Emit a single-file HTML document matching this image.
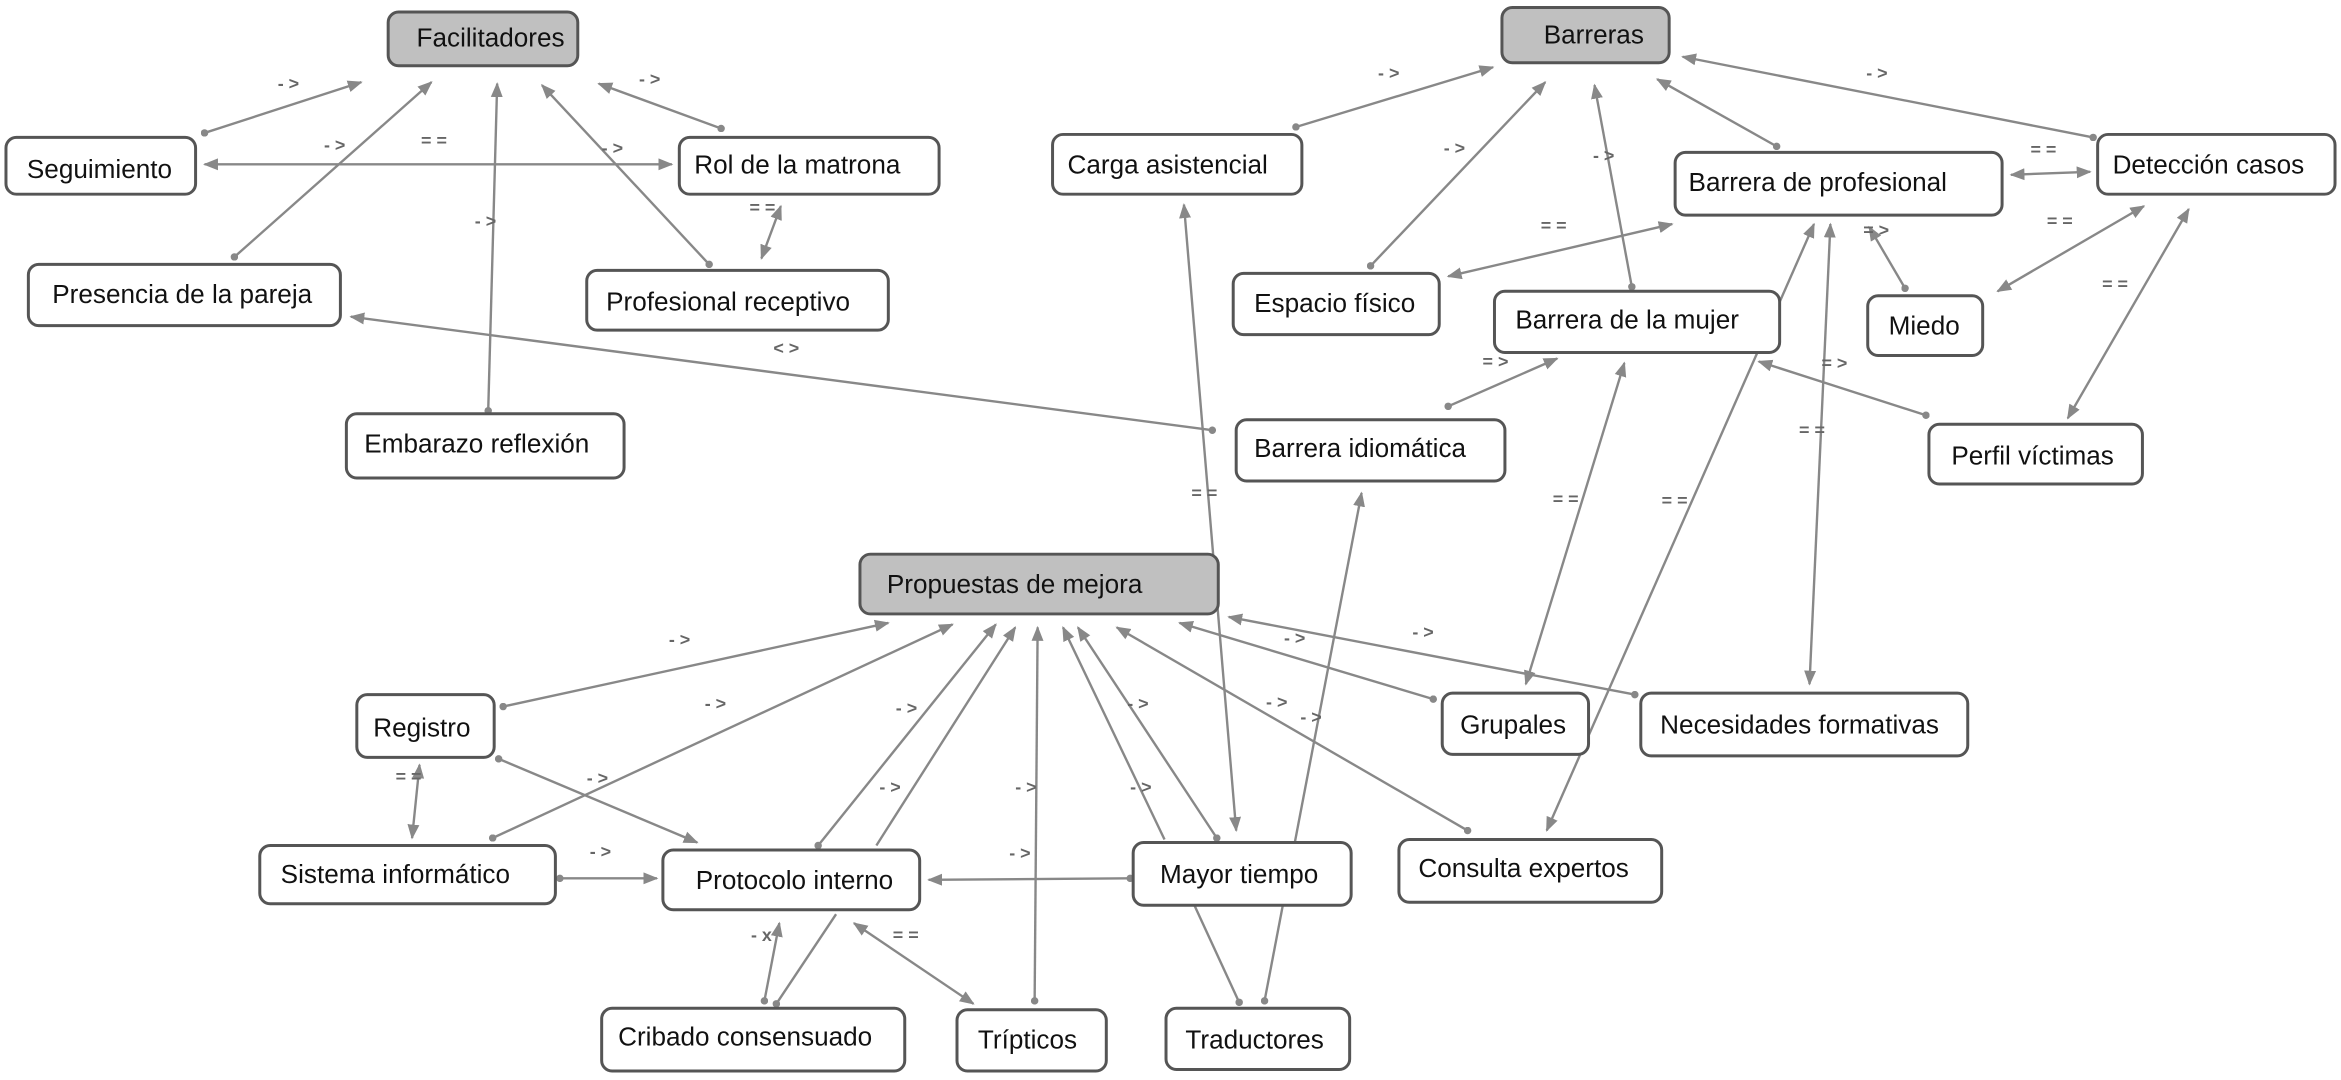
<!DOCTYPE html>
<html><head><meta charset="utf-8"><style>
html,body{margin:0;padding:0;background:#fff;}
svg{display:block}
.n{fill:#fff;stroke:#555;stroke-width:2}
.g{fill:#c0c0c0;stroke:#555;stroke-width:2}
.t{font-family:"Liberation Sans",sans-serif;font-size:17.5px;fill:#111}
.e{stroke:#888;stroke-width:1.6;fill:none}
.l{font-family:"Liberation Sans",sans-serif;font-size:12px;fill:#666;font-weight:bold}
</style></head><body>
<svg width="2341" height="1080" viewBox="0 0 1568 723" preserveAspectRatio="none" xmlns="http://www.w3.org/2000/svg">
<defs>
<marker id="a" viewBox="0 0 10 10" refX="9" refY="5" markerWidth="10" markerHeight="10" markerUnits="userSpaceOnUse" orient="auto-start-reverse"><path d="M0,1 L10,5 L0,9 z" fill="#888"/></marker>
<marker id="d" viewBox="0 0 6 6" refX="3" refY="3" markerWidth="5" markerHeight="5" markerUnits="userSpaceOnUse"><circle cx="3" cy="3" r="3" fill="#888"/></marker>
</defs>
<g>
<line class="e" x1="137" y1="89" x2="242" y2="55" marker-start="url(#d)" marker-end="url(#a)"/>
<line class="e" x1="137" y1="110" x2="450" y2="110" marker-start="url(#a)" marker-end="url(#a)"/>
<line class="e" x1="157" y1="172" x2="289" y2="55" marker-start="url(#d)" marker-end="url(#a)"/>
<line class="e" x1="327" y1="275" x2="333" y2="56" marker-start="url(#d)" marker-end="url(#a)"/>
<line class="e" x1="475" y1="177" x2="363" y2="57" marker-start="url(#d)" marker-end="url(#a)"/>
<line class="e" x1="483" y1="86" x2="401" y2="56" marker-start="url(#d)" marker-end="url(#a)"/>
<line class="e" x1="510" y1="173" x2="523" y2="138" marker-start="url(#a)" marker-end="url(#a)"/>
<line class="e" x1="812" y1="288" x2="235" y2="212" marker-start="url(#d)" marker-end="url(#a)"/>
<line class="e" x1="868" y1="85" x2="1000" y2="45" marker-start="url(#d)" marker-end="url(#a)"/>
<line class="e" x1="918" y1="178" x2="1035" y2="55" marker-start="url(#d)" marker-end="url(#a)"/>
<line class="e" x1="1093" y1="192" x2="1068" y2="57" marker-start="url(#d)" marker-end="url(#a)"/>
<line class="e" x1="1190" y1="98" x2="1110" y2="53" marker-start="url(#d)" marker-end="url(#a)"/>
<line class="e" x1="1402" y1="92" x2="1127" y2="38" marker-start="url(#d)" marker-end="url(#a)"/>
<line class="e" x1="1347" y1="117" x2="1400" y2="115" marker-start="url(#a)" marker-end="url(#a)"/>
<line class="e" x1="970" y1="185" x2="1120" y2="150" marker-start="url(#a)" marker-end="url(#a)"/>
<line class="e" x1="1276" y1="193" x2="1252" y2="152" marker-start="url(#d)" marker-end="url(#a)"/>
<line class="e" x1="1338" y1="195" x2="1436" y2="138" marker-start="url(#a)" marker-end="url(#a)"/>
<line class="e" x1="1385" y1="280" x2="1466" y2="140" marker-start="url(#a)" marker-end="url(#a)"/>
<line class="e" x1="1290" y1="278" x2="1178" y2="242" marker-start="url(#d)" marker-end="url(#a)"/>
<line class="e" x1="970" y1="272" x2="1043" y2="240" marker-start="url(#d)" marker-end="url(#a)"/>
<line class="e" x1="1022" y1="458" x2="1088" y2="243" marker-start="url(#a)" marker-end="url(#a)"/>
<line class="e" x1="1212" y1="458" x2="1226" y2="150" marker-start="url(#a)" marker-end="url(#a)"/>
<line class="e" x1="1036" y1="556" x2="1215" y2="150" marker-start="url(#a)" marker-end="url(#a)"/>
<line class="e" x1="793" y1="137" x2="828" y2="556" marker-start="url(#a)" marker-end="url(#a)"/>
<line class="e" x1="847" y1="670" x2="912" y2="330" marker-start="url(#d)" marker-end="url(#a)"/>
<line class="e" x1="337" y1="473" x2="595" y2="417" marker-start="url(#d)" marker-end="url(#a)"/>
<line class="e" x1="330" y1="561" x2="638" y2="418" marker-start="url(#d)" marker-end="url(#a)"/>
<line class="e" x1="548" y1="566" x2="667" y2="418" marker-start="url(#d)" marker-end="url(#a)"/>
<line class="e" x1="587" y1="566" x2="680" y2="420" marker-end="url(#a)"/>
<line class="e" x1="693" y1="670" x2="695" y2="420" marker-start="url(#d)" marker-end="url(#a)"/>
<line class="e" x1="780" y1="562" x2="712" y2="420" marker-end="url(#a)"/>
<line class="e" x1="815" y1="561" x2="722" y2="420" marker-start="url(#d)" marker-end="url(#a)"/>
<line class="e" x1="983" y1="556" x2="748" y2="420" marker-start="url(#d)" marker-end="url(#a)"/>
<line class="e" x1="960" y1="468" x2="790" y2="417" marker-start="url(#d)" marker-end="url(#a)"/>
<line class="e" x1="1095" y1="465" x2="823" y2="413" marker-start="url(#d)" marker-end="url(#a)"/>
<line class="e" x1="334" y1="508" x2="467" y2="564" marker-start="url(#d)" marker-end="url(#a)"/>
<line class="e" x1="281" y1="512" x2="276" y2="561" marker-start="url(#a)" marker-end="url(#a)"/>
<line class="e" x1="375" y1="588" x2="440" y2="588" marker-start="url(#d)" marker-end="url(#a)"/>
<line class="e" x1="757" y1="588" x2="622" y2="589" marker-start="url(#d)" marker-end="url(#a)"/>
<line class="e" x1="572" y1="618" x2="652" y2="672" marker-start="url(#a)" marker-end="url(#a)"/>
<line class="e" x1="512" y1="670" x2="522" y2="618" marker-start="url(#d)" marker-end="url(#a)"/>
<line class="e" x1="560" y1="612" x2="520" y2="672" marker-end="url(#d)"/>
<line class="e" x1="800" y1="606" x2="830" y2="671" marker-end="url(#d)"/>
</g>
<g class="l">
<text x="186" y="60">- &gt;</text><text x="217" y="101">- &gt;</text><text x="282" y="98">= =</text>
<text x="403" y="103">- &gt;</text><text x="428" y="57">- &gt;</text><text x="318" y="152">- &gt;</text>
<text x="502" y="143">= =</text><text x="518" y="237">&lt; &gt;</text>
<text x="923" y="53">- &gt;</text><text x="967" y="103">- &gt;</text><text x="1067" y="108">- &gt;</text>
<text x="1250" y="53">- &gt;</text><text x="1032" y="155">= =</text><text x="1360" y="104">= =</text>
<text x="1371" y="152">= =</text><text x="1248" y="158">= &gt;</text><text x="993" y="246">= &gt;</text>
<text x="1220" y="247">= &gt;</text><text x="1205" y="292">= =</text><text x="1408" y="194">= =</text>
<text x="1040" y="338">= =</text><text x="1113" y="339">= =</text><text x="798" y="334">= =</text>
<text x="448" y="432">- &gt;</text><text x="472" y="475">- &gt;</text><text x="600" y="478">- &gt;</text>
<text x="589" y="531">- &gt;</text><text x="680" y="531">- &gt;</text><text x="676" y="575">- &gt;</text>
<text x="755" y="475">- &gt;</text><text x="757" y="531">- &gt;</text><text x="860" y="431">- &gt;</text>
<text x="946" y="427">- &gt;</text><text x="848" y="474">- &gt;</text><text x="871" y="484">- &gt;</text>
<text x="393" y="525">- &gt;</text><text x="395" y="574">- &gt;</text><text x="265" y="524">= =</text>
<text x="503" y="630">- x</text><text x="598" y="630">= =</text>
</g>
<g>
<rect class="g" x="260" y="8" width="127" height="36" rx="7"/><text class="t" x="279" y="31">Facilitadores</text>
<rect class="n" x="4" y="92" width="127" height="38" rx="7"/><text class="t" x="18" y="119">Seguimiento</text>
<rect class="n" x="455" y="92" width="174" height="38" rx="7"/><text class="t" x="465" y="116">Rol de la matrona</text>
<rect class="n" x="19" y="177" width="209" height="41" rx="7"/><text class="t" x="35" y="203">Presencia de la pareja</text>
<rect class="n" x="393" y="181" width="202" height="40" rx="7"/><text class="t" x="406" y="208">Profesional receptivo</text>
<rect class="n" x="232" y="277" width="186" height="43" rx="7"/><text class="t" x="244" y="303">Embarazo reflexión</text>
<rect class="g" x="1006" y="5" width="112" height="37" rx="7"/><text class="t" x="1034" y="29">Barreras</text>
<rect class="n" x="705" y="90" width="167" height="40" rx="7"/><text class="t" x="715" y="116">Carga asistencial</text>
<rect class="n" x="1122" y="102" width="219" height="42" rx="7"/><text class="t" x="1131" y="128">Barrera de profesional</text>
<rect class="n" x="1405" y="90" width="159" height="40" rx="7"/><text class="t" x="1415" y="116">Detección casos</text>
<rect class="n" x="826" y="183" width="138" height="41" rx="7"/><text class="t" x="840" y="209">Espacio físico</text>
<rect class="n" x="1001" y="195" width="191" height="41" rx="7"/><text class="t" x="1015" y="220">Barrera de la mujer</text>
<rect class="n" x="1251" y="198" width="77" height="40" rx="7"/><text class="t" x="1265" y="224">Miedo</text>
<rect class="n" x="828" y="281" width="180" height="41" rx="7"/><text class="t" x="840" y="306">Barrera idiomática</text>
<rect class="n" x="1292" y="284" width="143" height="40" rx="7"/><text class="t" x="1307" y="311">Perfil víctimas</text>
<rect class="g" x="576" y="371" width="240" height="40" rx="7"/><text class="t" x="594" y="397">Propuestas de mejora</text>
<rect class="n" x="239" y="465" width="92" height="42" rx="7"/><text class="t" x="250" y="493">Registro</text>
<rect class="n" x="966" y="464" width="98" height="41" rx="7"/><text class="t" x="978" y="491">Grupales</text>
<rect class="n" x="1099" y="464" width="219" height="42" rx="7"/><text class="t" x="1112" y="491">Necesidades formativas</text>
<rect class="n" x="174" y="566" width="198" height="39" rx="7"/><text class="t" x="188" y="591">Sistema informático</text>
<rect class="n" x="444" y="569" width="172" height="40" rx="7"/><text class="t" x="466" y="595">Protocolo interno</text>
<rect class="n" x="759" y="564" width="146" height="42" rx="7"/><text class="t" x="777" y="591">Mayor tiempo</text>
<rect class="n" x="937" y="562" width="176" height="42" rx="7"/><text class="t" x="950" y="587">Consulta expertos</text>
<rect class="n" x="403" y="675" width="203" height="42" rx="7"/><text class="t" x="414" y="700">Cribado consensuado</text>
<rect class="n" x="641" y="676" width="100" height="41" rx="7"/><text class="t" x="655" y="702">Trípticos</text>
<rect class="n" x="781" y="675" width="123" height="41" rx="7"/><text class="t" x="794" y="702">Traductores</text>
</g>
</svg>
</body></html>
